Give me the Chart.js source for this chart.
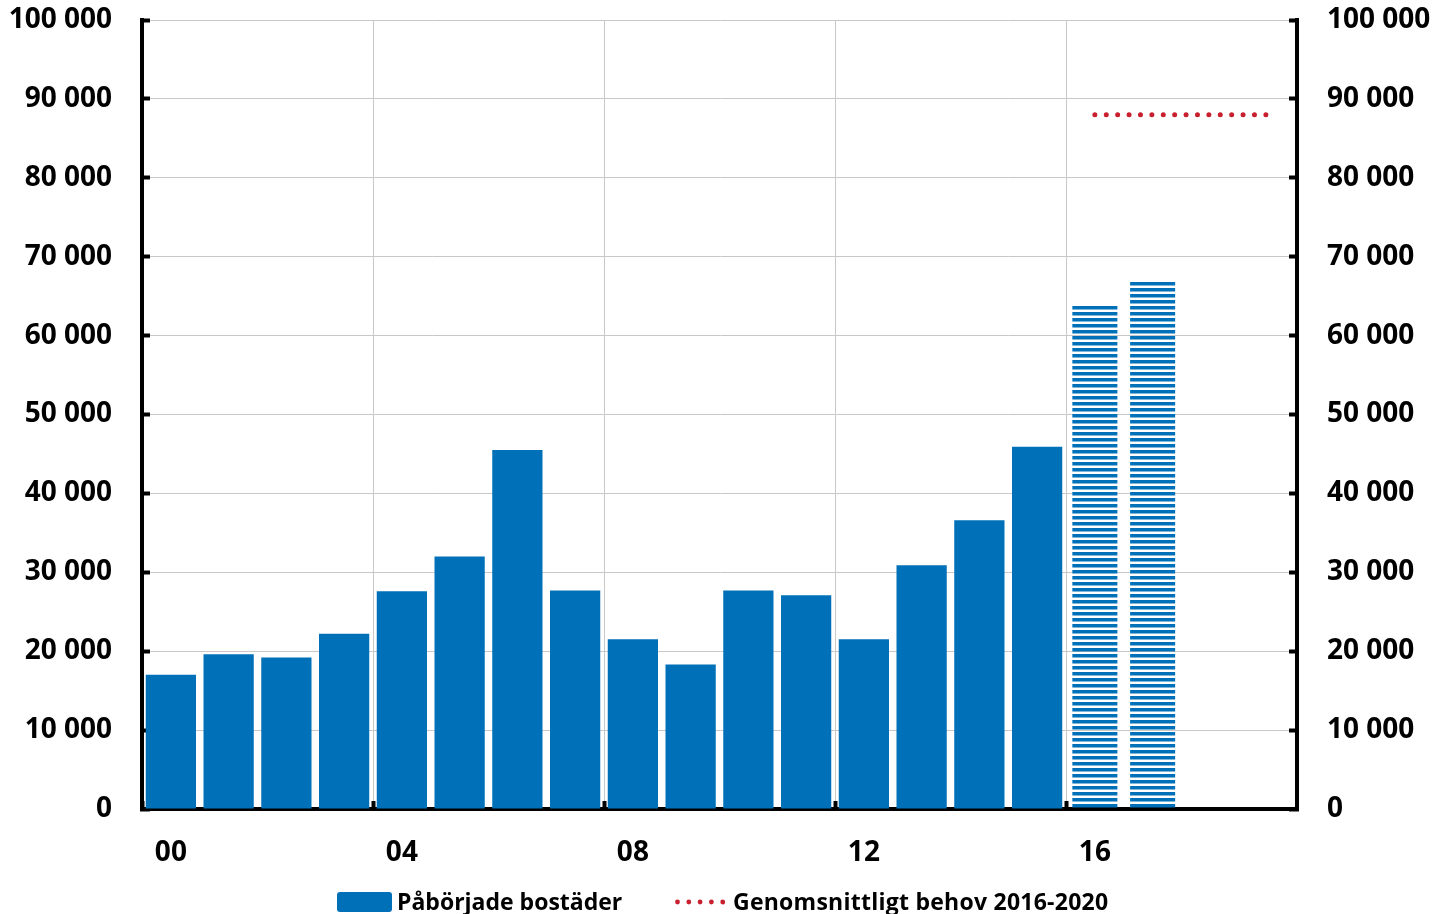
<!DOCTYPE html>
<html>
<head>
<meta charset="utf-8">
<script src="https://cdn.jsdelivr.net/npm/chart.js@4/dist/chart.umd.min.js"></script>
<style>
  html, body { margin: 0; padding: 0; background: #fff; }
  #wrap { width: 1441px; height: 914px; position: relative; overflow: hidden; }
  #chart { position: absolute; left: 0; top: 0; }
  .leg { position: absolute; top: 884px; height: 34px; font: bold 23px 'Open Sans', 'DejaVu Sans', sans-serif; color: #000; white-space: nowrap; }
  .leg canvas { position: absolute; }
  .leg span { position: absolute; top: 0; line-height: 34px; }
</style>
</head>
<body>
<div id="wrap">
  <canvas id="chart" width="1441" height="914"></canvas>
  <div id="legend"></div>
</div>
<script>
var years = ["2000", "2001", "2002", "2003", "2004", "2005", "2006", "2007", "2008", "2009",
             "2010", "2011", "2012", "2013", "2014", "2015", "2016", "2017", "2018", "2019"];
// actual housing starts, then the forecast years (striped)
var started = [17000, 19600, 19200, 22200, 27600, 32000, 45500, 27700, 21500, 18300,
               27700, 27100, 21500, 30900, 36600, 45900, null, null, null, null];
var forecast = [null, null, null, null, null, null, null, null, null, null,
                null, null, null, null, null, null, 63900, 66800, null, null];
var need = [null, null, null, null, null, null, null, null, null, null,
            null, null, null, null, null, null, 88000, 88000, 88000, 88000];

var blue = "#0070B8";
var red = "#C8202F";
var font = "'Open Sans', 'DejaVu Sans', sans-serif";

// striped fill for the forecast bars
function stripes() {
  var c = document.createElement("canvas");
  c.width = 8; c.height = 6;
  var g = c.getContext("2d");
  g.fillStyle = blue;
  g.fillRect(0, 0, 8, 3.5);
  return g.createPattern(c, "repeat");
}

// legend symbols
function boxIcon() {
  var c = document.createElement("canvas");
  c.width = 55; c.height = 20;
  var g = c.getContext("2d");
  g.fillStyle = blue;
  g.beginPath();
  g.roundRect(0, 0, 55, 20, 3);
  g.fill();
  return c;
}
function dotsIcon() {
  var c = document.createElement("canvas");
  c.width = 50; c.height = 8;
  var g = c.getContext("2d");
  g.fillStyle = red;
  for (var i = 0; i < 5; i++) {
    g.beginPath();
    g.arc(2.5 + i * 11.3, 4, 2.4, 0, Math.PI * 2);
    g.fill();
  }
  return c;
}

function fmt(v) {
  return v.toLocaleString("sv-SE").replace(/\u00a0/g, " ");
}

var ctx = document.getElementById("chart").getContext("2d");
var chart = new Chart(ctx, {
  type: "bar",
  data: {
    labels: years,
    datasets: [{
      type: "line",
      label: "Genomsnittligt behov 2016-2020",
      data: need,
      borderColor: red,
      borderWidth: 5,
      borderDash: [0, 11.4],
      borderCapStyle: "round",
      pointRadius: 0,
      fill: false,
      spanGaps: false,
      order: 0
    }, {
      label: "Påbörjade bostäder",
      data: started,
      backgroundColor: blue,
      barPercentage: 0.87,
      categoryPercentage: 1,
      grouped: false,
      order: 1
    }, {
      label: "Påbörjade bostäder (prognos)",
      data: forecast,
      backgroundColor: stripes(),
      barPercentage: 0.78,
      categoryPercentage: 1,
      grouped: false,
      order: 1
    }]
  },
  options: {
    responsive: false,
    animation: false,
    layout: { padding: { top: 20, bottom: 45 } },
    plugins: {
      tooltip: { enabled: false },
      legend: { display: false }
    },
    scales: {
      x: {
        offset: true,
        grid: {
          offset: true,
          color: function(c) { return c.index % 4 === 0 ? "#c8c8c8" : "rgba(0,0,0,0)"; },
          tickColor: function(c) { return c.index % 4 === 0 ? "#000" : "rgba(0,0,0,0)"; },
          tickLength: -8,
          tickWidth: 4,
          lineWidth: 1
        },
        border: { color: "#000", width: 4 },
        ticks: {
          autoSkip: false,
          maxRotation: 0,
          padding: 35,
          color: "#000",
          font: { family: font, size: 28, weight: "bold" },
          callback: function(v, i) { return i % 4 === 0 ? years[i].slice(2) : ""; }
        },
        afterFit: function(s) { s.height = 60; s.paddingLeft = 0; s.paddingRight = 0; }
      },
      y: {
        position: "left",
        min: 0,
        max: 100000,
        grid: { color: "#c8c8c8", lineWidth: 1, tickColor: "#000", tickLength: -8, tickWidth: 4 },
        border: { color: "#000", width: 4 },
        ticks: {
          stepSize: 10000,
          padding: 38,
          color: "#000",
          font: { family: font, size: 28, weight: "bold" },
          callback: fmt
        },
        afterFit: function(s) { s.width = 142; s.paddingTop = 0; s.paddingBottom = 0; }
      },
      y2: {
        position: "right",
        min: 0,
        max: 100000,
        grid: { drawOnChartArea: false, tickColor: "#000", tickLength: -8, tickWidth: 4 },
        border: { color: "#000", width: 4 },
        ticks: {
          stepSize: 10000,
          padding: 38,
          color: "#000",
          font: { family: font, size: 28, weight: "bold" },
          callback: fmt
        },
        afterFit: function(s) { s.width = 144; s.paddingTop = 0; s.paddingBottom = 0; }
      }
    }
  }
});

// legend below the chart, built from the dataset labels
var legend = document.getElementById("legend");
var items = [
  { icon: boxIcon(), text: chart.data.datasets[1].label, left: 337, iconTop: 8, textLeft: 60 },
  { icon: dotsIcon(), text: chart.data.datasets[0].label, left: 675, iconTop: 14, textLeft: 58 }
];
items.forEach(function(it) {
  var d = document.createElement("div");
  d.className = "leg";
  d.style.left = it.left + "px";
  it.icon.style.left = "0px";
  it.icon.style.top = it.iconTop + "px";
  d.appendChild(it.icon);
  var s = document.createElement("span");
  s.textContent = it.text;
  s.style.left = it.textLeft + "px";
  if (it.icon.height < 10) s.style.letterSpacing = "0.25px";
  d.appendChild(s);
  legend.appendChild(d);
});
</script>
</body>
</html>
